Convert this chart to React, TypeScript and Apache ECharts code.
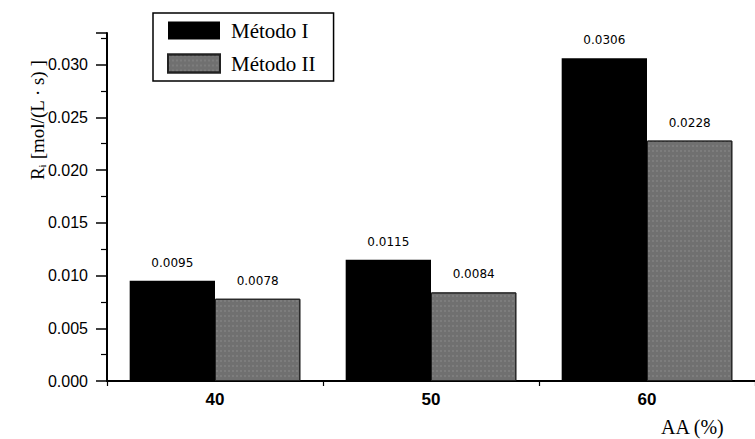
import React, { useEffect, useRef } from "react";
import * as echarts from "echarts";

const categories = ["40", "50", "60"];
const metodoI = [0.0095, 0.0115, 0.0306];
const metodoII = [0.0078, 0.0084, 0.0228];
const labelsI = ["0.0095", "0.0115", "0.0306"];
const labelsII = ["0.0078", "0.0084", "0.0228"];
const seriesNames = ["Método I", "Método II"];

export default function App() {
  const ref = useRef<HTMLDivElement>(null);
  useEffect(() => {
    if (!ref.current) return;
    const chart = echarts.init(ref.current, null, { renderer: "svg" });
    const labelStyle = {
      show: true,
      position: "top" as const,
      distance: 12,
      fontFamily: "DejaVu Sans, sans-serif",
      fontSize: 12,
      color: "#000",
    };
    chart.setOption({
      animation: false,
      backgroundColor: "#fff",
      grid: { left: 107, top: 33, bottom: 58, width: 653, containLabel: false },
      legend: {
        orient: "vertical",
        left: 153,
        top: 13,
        itemWidth: 52,
        itemHeight: 18,
        itemGap: 12,
        padding: [7, 18, 7, 14],
        borderColor: "#000",
        borderWidth: 1.5,
        textStyle: {
          fontFamily: "Liberation Serif, Times New Roman, serif",
          fontSize: 21,
          color: "#000",
          padding: [0, 0, 0, 6],
        },
        data: seriesNames,
        icon: "rect",
      },
      xAxis: [
        {
          type: "category",
          data: categories,
          axisLine: { lineStyle: { color: "#000", width: 2 } },
          axisTick: { alignWithLabel: true, length: 7, lineStyle: { color: "#000", width: 1.5 } },
          axisLabel: {
            fontFamily: "Liberation Sans, Arial, sans-serif",
            fontSize: 17,
            fontWeight: "bold",
            color: "#000",
            margin: 10,
          },
        },
        {
          type: "category",
          data: categories,
          position: "bottom",
          axisLine: { show: false },
          axisTick: { show: true, length: 5, lineStyle: { color: "#000", width: 1.2 } },
          axisLabel: { show: false },
        },
      ],
      yAxis: {
        type: "value",
        min: 0,
        max: 0.033,
        interval: 0.005,
        axisLine: { show: true, lineStyle: { color: "#000", width: 2 } },
        axisTick: { show: true, length: 11, lineStyle: { color: "#000", width: 1.5 } },
        minorTick: { show: true, splitNumber: 2, length: 6, lineStyle: { color: "#000", width: 1.2 } },
        splitLine: { show: false },
        axisLabel: {
          fontFamily: "Liberation Sans, Arial, sans-serif",
          fontSize: 16,
          color: "#000",
          margin: 19,
          formatter: (v: number) => (v > 0.0325 ? "" : v.toFixed(3)),
        },
      },
      graphic: [
        {
          type: "text",
          x: 37,
          y: 120,
          rotation: Math.PI / 2,
          style: {
            text: "{a|R}{s|i}{a| [mol/(L · s) ]}",
            rich: {
              a: { fontFamily: "Liberation Serif, Times New Roman, serif", fontSize: 19, fill: "#000" },
              s: { fontFamily: "Liberation Serif, Times New Roman, serif", fontSize: 11, fill: "#000", padding: [10, 0, 0, 0] },
            },
            align: "center",
            verticalAlign: "middle",
          },
        },
        {
          type: "text",
          left: 661,
          top: 417,
          style: {
            text: "AA (%)",
            fontFamily: "Liberation Serif, Times New Roman, serif",
            fontSize: 20,
            fill: "#000",
          },
        },
      ],
      series: [
        {
          name: seriesNames[0],
          type: "bar",
          data: metodoI,
          barGap: "0%",
          barCategoryGap: "21%",
          itemStyle: { color: "#000" },
          label: { ...labelStyle, formatter: (p: any) => labelsI[p.dataIndex] },
        },
        {
          name: seriesNames[1],
          type: "bar",
          data: metodoII,
          barGap: "0%",
          barCategoryGap: "21%",
          itemStyle: {
            color: "#707070",
            borderColor: "#222",
            borderWidth: 1,
            decal: {
              symbol: "rect",
              symbolSize: 0.5,
              dashArrayX: [2, 2],
              dashArrayY: [2, 3],
              color: "rgba(255,255,255,0.35)",
              rotation: 0,
            },
          },
          label: { ...labelStyle, formatter: (p: any) => labelsII[p.dataIndex] },
        },
      ],
    });
    return () => chart.dispose();
  }, []);
  return <div ref={ref} style={{ position: "fixed", left: 0, top: 0, width: 755, height: 439 }} />;
}
